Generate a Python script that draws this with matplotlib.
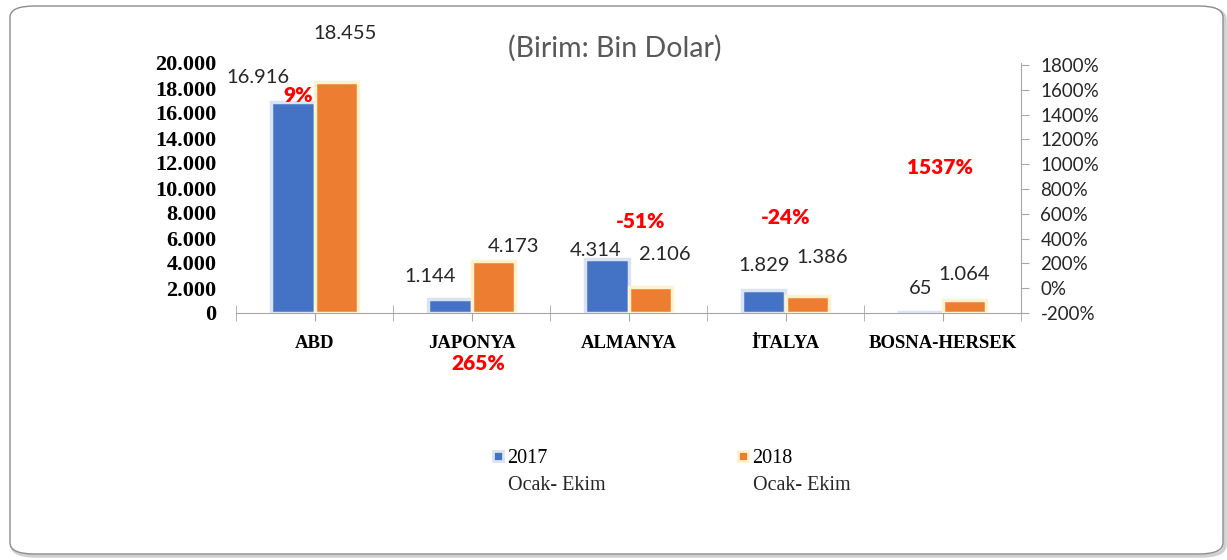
import numpy as np
import matplotlib.pyplot as plt
from matplotlib.patches import FancyBboxPatch
from matplotlib.lines import Line2D

# data (Bin Dolar)
countries = ['ABD', 'JAPONYA', 'ALMANYA', 'İTALYA', 'BOSNA-HERSEK']
val_2017 = [16916, 1144, 4314, 1829, 65]
val_2018 = [18455, 4173, 2106, 1386, 1064]
series_names = ['2017', '2018']
period = 'Ocak- Ekim'

left_ticks = np.arange(0, 20001, 2000)
right_ticks = np.arange(-200, 1801, 200)

BLUE = '#4472c4'
ORANGE = '#ed7d31'
W = 100  # px per inch

def fmt(v):
    return f'{v:,}'.replace(',', '.')

# yoy change labels
changes = [round((b / a - 1) * 100) for a, b in zip(val_2017, val_2018)]

# label placement (pixel offsets from bar top / from category baseline)
off_2017 = [(-35, 24), (-20, 22), (-11, 9), (0, 25), (0, 24)]
off_2018 = [(9, 49), (20, 14), (15, 32), (15, 38), (0, 25)]
off_pct = [(-16, 218), (7, -51), (12, 91), (0, 95), (-2, 145)]

fig = plt.figure(figsize=(12.27, 5.6), dpi=W)

# rounded frame around the chart
shadow = FancyBboxPatch((12 / 1227, 4 / 560), 1213 / 1227, 548 / 560,
                        boxstyle='round,pad=0,rounding_size=0.02',
                        transform=fig.transFigure, facecolor='none',
                        edgecolor='#d0d0d0', lw=2.5, zorder=-2)
frame = FancyBboxPatch((10 / 1227, 6 / 560), 1213 / 1227, 548 / 560,
                       boxstyle='round,pad=0,rounding_size=0.02',
                       transform=fig.transFigure, facecolor='white',
                       edgecolor='#8c8c8c', lw=1.0, zorder=-1)
fig.patches.extend([shadow, frame])

ax = fig.add_axes([236 / 1227, 247 / 560, 785 / 1227, 250 / 560])
ax.patch.set_alpha(0)
x = np.arange(len(countries))
bw = 0.275

b1 = ax.bar(x - bw / 2, val_2017, bw, color=BLUE, edgecolor='#dae3f3', linewidth=2.5, zorder=3)
b2 = ax.bar(x + bw / 2, val_2018, bw, color=ORANGE, edgecolor='#fff2cc', linewidth=2.5, zorder=3)

ax.set_xlim(-0.5, 4.5)
ax.set_ylim(0, 20000)
ax.set_yticks(left_ticks)
ax.set_yticklabels([fmt(v) for v in left_ticks], fontfamily='Liberation Serif',
                   fontweight='bold', fontsize=16)
ax.tick_params(axis='y', length=0, pad=14)
ax.set_xticks(x)
ax.set_xticklabels(countries, fontfamily='Liberation Serif', fontweight='bold', fontsize=13.5)
ax.set_xticks(np.arange(-0.5, 4.6, 1.0), minor=True)
ax.tick_params(axis='x', which='both', direction='inout', length=11, color='#a6a6a6', pad=10)
for s in ['left', 'top', 'right']:
    ax.spines[s].set_visible(False)
ax.spines['bottom'].set_color('#a6a6a6')

ax2 = ax.twinx()
ax2.set_ylim(-184, 1816)
ax2.set_yticks(right_ticks)
ax2.set_yticklabels([f'{v}%' for v in right_ticks], fontfamily='Lato', fontsize=13.5, color='#262626')
ax2.tick_params(axis='y', length=6, color='#a6a6a6', pad=8)
for s in ['left', 'top', 'bottom']:
    ax2.spines[s].set_visible(False)
ax2.spines['right'].set_color('#a6a6a6')
ax2.spines['right'].set_bounds(-200, 1816)

# value labels
for i in range(len(countries)):
    ax.annotate(fmt(val_2017[i]), (x[i] - bw / 2, val_2017[i]), xytext=off_2017[i],
                textcoords='offset pixels', ha='center', va='center',
                fontfamily='Lato', fontsize=14.5, color='#262626', zorder=5)
    ax.annotate(fmt(val_2018[i]), (x[i] + bw / 2, val_2018[i]), xytext=off_2018[i],
                textcoords='offset pixels', ha='center', va='center',
                fontfamily='Lato', fontsize=14.5, color='#262626', zorder=5)
    ax.annotate(f'{changes[i]}%', (x[i], 0), xytext=off_pct[i], textcoords='offset pixels',
                ha='center', va='center', fontfamily='Lato', fontweight='heavy',
                fontsize=15, color='#ff0000', annotation_clip=False, zorder=6)

fig.text(615 / 1227, 1 - 48 / 560, '(Birim: Bin Dolar)', ha='center', va='center',
         fontfamily='Lato', fontsize=20.5, color='#595959')

# legend
handles = [Line2D([], [], ls='none', marker='s', markersize=7, markerfacecolor=BLUE,
                  markeredgecolor='#dae3f3', markeredgewidth=2),
           Line2D([], [], ls='none', marker='s', markersize=7, markerfacecolor=ORANGE,
                  markeredgecolor='#fff2cc', markeredgewidth=2)]
fig.legend(handles, series_names, loc='center left', bbox_to_anchor=(482 / 1227, 1 - 458 / 560),
           ncol=2, frameon=False, handlelength=0.6, handletextpad=0.15, columnspacing=9.4,
           borderpad=0, prop={'family': 'Liberation Serif', 'size': 14.5})
for xl in [508, 753]:
    fig.text(xl / 1227, 1 - 485 / 560, period, ha='left', va='center',
             fontfamily='Liberation Serif', fontsize=14.5, color='#262626')

fig.savefig('out.png', dpi=W)
